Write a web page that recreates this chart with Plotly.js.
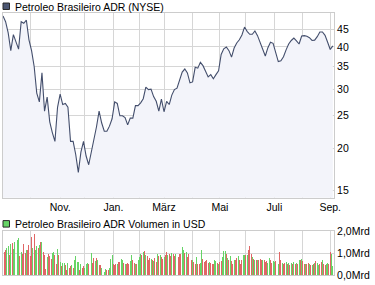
<!DOCTYPE html>
<html><head><meta charset="utf-8">
<script src="https://cdn.plot.ly/plotly-3.0.1.min.js"></script>
<style>html,body{margin:0;padding:0;background:#fff}#c{width:375px;height:285px}</style>
</head><body><div id="c"></div>
<script>
// Trading-day sampled closing prices (every 2nd trading day, Sep 2008 - Sep 2009), USD
const priceStep = 2;
const prices = [
49.4,47.5,44.0,39.0,43.5,41.5,39.4,47.5,47.0,48.0,
42.0,39.0,35.0,29.2,27.5,33.5,25.8,28.4,24.0,22.3,
21.0,26.5,29.0,27.0,27.2,26.5,21.0,21.0,19.2,17.0,
19.5,21.0,19.0,17.9,19.4,21.4,23.2,25.8,23.8,22.5,
22.5,23.3,24.5,27.5,27.2,25.0,25.0,24.7,23.5,24.6,
24.6,26.8,26.8,27.3,28.1,30.4,29.9,30.0,28.5,27.6,
25.8,28.0,25.7,27.6,27.0,28.8,29.9,30.2,32.2,33.7,
34.4,33.5,31.3,31.5,34.8,34.6,36.0,35.2,33.9,32.6,
33.1,32.2,33.1,34.0,38.0,39.5,40.0,39.0,37.3,39.7,
41.1,42.0,43.4,45.8,44.5,43.6,43.6,44.6,43.2,41.3,
39.8,37.6,39.8,41.3,41.0,38.3,36.2,36.4,37.4,39.2,
40.8,41.8,42.5,41.7,40.8,43.1,43.2,43.0,42.6,41.8,
41.9,42.9,44.3,44.3,43.3,41.3,39.3,40.3
];
// Daily volume in Mrd USD
const volumes = [
1.09,1.05,1.12,1.24,1.30,0.89,1.42,1.45,1.20,
1.50,1.42,1.61,1.68,0.85,1.05,0.97,1.39,1.00,
1.12,1.15,1.35,0.85,1.73,1.24,1.88,1.12,1.30,
1.24,1.35,1.50,1.50,1.05,0.89,0.29,0.82,0.95,
0.85,0.74,1.00,1.05,0.89,0.52,1.20,0.89,0.60,
0.39,0.55,0.55,0.44,0.24,0.55,0.33,0.39,0.45,
0.33,0.67,0.85,0.59,0.59,0.24,0.48,0.33,0.40,
0.33,0.52,0.55,0.48,0.74,1.00,0.55,0.79,0.62,
0.79,0.70,0.44,0.44,0.33,0.14,0.14,0.29,0.25,
0.21,0.33,0.74,0.89,0.48,0.44,0.52,0.52,0.60,
0.59,0.74,0.67,0.55,0.52,0.52,0.55,0.48,0.62,
0.89,0.70,0.55,0.52,0.48,0.70,0.82,0.97,0.90,
1.03,1.09,0.89,0.85,0.70,0.79,0.74,0.70,0.66,
0.79,0.59,0.94,0.85,0.89,0.82,0.75,
0.82,0.89,1.05,0.90,
0.94,0.85,1.00,0.94,0.85,0.94,0.82,0.82,0.94,0.94,
1.27,1.12,1.00,1.05,0.82,0.97,0.67,0.67,0.67,0.59,
0.48,0.82,0.52,0.52,0.55,1.12,0.74,0.59,0.64,0.67,
0.55,0.59,0.55,0.52,0.48,0.67,0.64,0.55,0.48,0.59,0.62,
0.82,1.09,1.09,0.97,0.79,0.70,0.85,0.64,0.48,0.67,
0.70,0.79,0.85,0.67,0.48,0.67,0.89,0.89,0.89,0.89,
1.12,1.32,0.97,0.82,0.74,0.70,0.67,0.67,0.70,0.74,
0.70,0.67,0.67,0.59,0.64,0.55,0.79,0.67,0.55,0.64,0.60,
0.64,0.67,0.52,1.05,0.67,0.55,0.52,0.55,0.59,0.48,
0.55,0.44,0.55,0.48,0.59,0.52,0.55,0.48,0.67,0.70,
0.73,0.64,0.52,0.52,0.48,0.55,0.48,0.44,0.44,0.52,
0.55,0.64,0.55,0.44,0.48,0.59,0.67,0.48,0.44,0.52,0.55,
0.48,1.05,0.94,0.39
];
// day direction: g = up, r = down
const volumeDirection = (
"rrrggrgrg"+"grggrgrrr"+"grrrrgrgg"+"rgrgrrrgr"+"rrggrrgrg"+"rggrrgrrg"+"rggggrgrr"+
"gggrggrrg"+"rgrrgrggr"+"rgggrrrgr"+"rggrgrrrg"+"grrgrgggr"+"grgrrrgrg"+"rrgrgrr"+"grrg"+
"rrgrrggrrr"+"ggrgrrrrgr"+"rgrrggrrrr"+"rgrrrggrgrr"+"gggrgrgrrg"+"rrgrrrggrg"+
"rrrgrgrgrr"+"rgrrrggrrgg"+"rggrrgrrgr"+"grgrgrgrgr"+"grrgrrgrgr"+"grggrrgrrgg"+"rrgg"
).split("");
// month starts (trading-day index) and labels
const monthStartDay = [21,44,63,85,105,124,146,167,187,209,231,252];
const monthLabels = ["","Nov.","","Jan.","","März","","Mai","","Juli","","Sep."];
const priceTicks = [15,20,25,30,35,40,45];
const volumeTicks = [0,1,2];
const volumeTickLabels = ["0,0Mrd","1,0Mrd","2,0Mrd"];
const priceTitle = "Petroleo Brasileiro ADR (NYSE)";
const volumeTitle = "Petroleo Brasileiro ADR Volumen in USD";

const W=375,H=285, L=3, R=41, T=13, B=9.5;
const pw=W-L-R, ph=H-T-B;
const px2x = p => (p-L)/pw;
const px2y = p => (H-B-p)/ph;

const priceX = prices.map((_,i)=>i*priceStep);
const volX = volumes.map((_,i)=>i);
const volColors = volumeDirection.map(d => d==="g" ? "#66d466" : "#e06666");

const grid = "#d6d6d6", border = "#cccccc";
const font = {family:"Liberation Sans, Arial, sans-serif", size:10.5, color:"#000"};

const traces = [
  {x:priceX, y:prices, type:"scatter", mode:"lines", xaxis:"x", yaxis:"y",
   line:{color:"#434e6c", width:1.1}, fill:"tozeroy", fillcolor:"#f3f4fa", hoverinfo:"none"},
  {x:volX, y:volumes, type:"bar", xaxis:"x2", yaxis:"y2", width:0.75,
   marker:{color:volColors, line:{width:0}}, hoverinfo:"none"}
];

const axX = {range:[0,254.9], tickvals:monthStartDay, ticktext:monthLabels, showgrid:true,
  gridcolor:grid, gridwidth:1, showline:true, mirror:true, linecolor:border, linewidth:1,
  ticks:"", zeroline:false, tickfont:font, fixedrange:true};
const layout = {
  width:W, height:H, margin:{l:L, r:R, t:T, b:B}, paper_bgcolor:"#fff", plot_bgcolor:"#fff",
  showlegend:false, font:font,
  xaxis:Object.assign({}, axX, {anchor:"y", domain:[0,1]}),
  xaxis2:Object.assign({}, axX, {anchor:"y2", domain:[0,1], showticklabels:false}),
  yaxis:{type:"log", domain:[px2y(198),1], range:[1.1554,1.7026], side:"right",
    tickvals:priceTicks, ticktext:priceTicks.map(String), showgrid:true, gridcolor:grid,
    showline:true, mirror:true, linecolor:border, ticks:"", zeroline:false, tickfont:font, anchor:"x"},
  yaxis2:{domain:[0,px2y(231.5)], range:[0,2], side:"right", tickvals:volumeTicks,
    ticktext:volumeTickLabels, showgrid:true, gridcolor:grid, showline:true, mirror:true,
    linecolor:border, ticks:"", zeroline:false, tickfont:font, anchor:"x2"},
  bargap:0,
  shapes:[
    {type:"rect", xref:"paper", yref:"paper", x0:px2x(3), x1:px2x(9.5), y0:px2y(9.5), y1:px2y(3),
     fillcolor:"#4b5672", line:{color:"#2a2a2a", width:1}},
    {type:"rect", xref:"paper", yref:"paper", x0:px2x(3), x1:px2x(9.5), y0:px2y(227.5), y1:px2y(221),
     fillcolor:"#66d466", line:{color:"#2a2a2a", width:1}}
  ],
  annotations:[
    {text:priceTitle, xref:"paper", yref:"paper", x:px2x(13), y:px2y(6.5), xanchor:"left",
     yanchor:"middle", showarrow:false, font:font},
    {text:volumeTitle, xref:"paper", yref:"paper", x:px2x(13), y:px2y(224), xanchor:"left",
     yanchor:"middle", showarrow:false, font:font}
  ]
};
Plotly.newPlot("c", traces, layout, {staticPlot:true, displayModeBar:false});
</script></body></html>
